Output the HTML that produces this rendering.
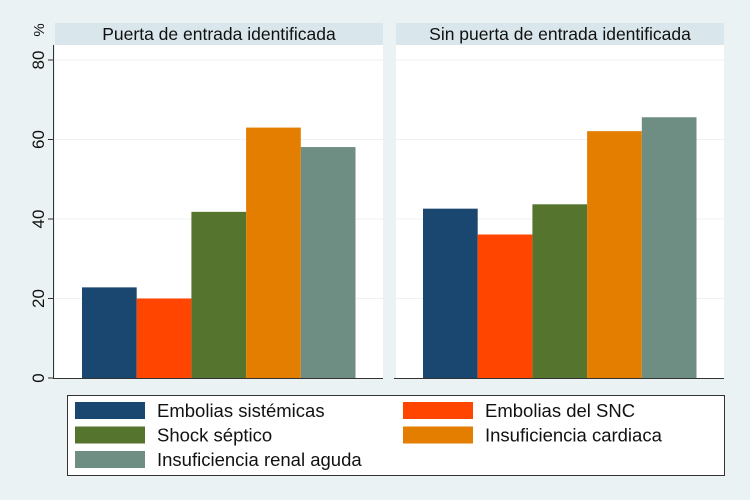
<!DOCTYPE html>
<html><head><meta charset="utf-8"><style>
body{margin:0;background:#eaf2f3;}
svg{display:block;font-family:"Liberation Sans",sans-serif;}
</style></head><body>
<svg id="chart" width="750" height="500">
<rect width="750" height="500" fill="#eaf2f3"/>
<g id="plots"></g>
<g id="legend"></g>
</svg>
<script>
const panels = ["Puerta de entrada identificada", "Sin puerta de entrada identificada"];
const seriesNames = ["Embolias sistémicas", "Embolias del SNC", "Shock séptico", "Insuficiencia cardiaca", "Insuficiencia renal aguda"];
const valuesPanel1 = [22.8, 20.0, 41.8, 63.0, 58.1];
const valuesPanel2 = [42.6, 36.1, 43.7, 62.1, 65.6];
const yTicks = [0, 20, 40, 60, 80];
const colors = ["#1a476f", "#ff4500", "#55752f", "#e37e00", "#6e8e84"];

const NS = "http://www.w3.org/2000/svg";
function mk(tag, attrs, parent, text){
  const e = document.createElementNS(NS, tag);
  for (const k in attrs) e.setAttribute(k, attrs[k]);
  if (text !== undefined) e.textContent = text;
  parent.appendChild(e);
  return e;
}
const y0 = 378, pxPerUnit = 3.975;
function yScale(v){ return y0 - v * pxPerUnit; }
const panelX = [55, 396], panelW = 328, barW = 54.7, barOff = 27;
function xScale(p, i){ return panelX[p] + barOff + i * barW; }

const plots = document.getElementById('plots');
const allVals = [valuesPanel1, valuesPanel2];
panels.forEach((title, p) => {
  const g = mk('g', {}, plots);
  
  
  const area = mk('rect', {x: panelX[p], y: 45, width: panelW, height: y0 - 45, fill: '#ffffff'}, g);
  
  
  const hdr = mk('rect', {x: panelX[p], y: 23, width: panelW, height: 22, fill: '#d9e6ec'}, g);
  
  
  const ht = mk('text', {x: panelX[p] + panelW / 2, y: 40, 'text-anchor': 'middle', 'font-size': 17.5, fill: '#111'}, g, title);
  
  
  yTicks.forEach(t => {
    if (t > 0) {
      const gl = mk('line', {x1: panelX[p], x2: panelX[p] + panelW, y1: yScale(t), y2: yScale(t), stroke: '#eef2f3', 'stroke-width': 1}, g);
      
      
    }
  });
  allVals[p].forEach((v, i) => {
    const b = mk('rect', {x: xScale(p, i), y: yScale(v), width: barW, height: y0 - yScale(v), fill: colors[i]}, g);
    
    
  });
  const ax = mk('line', {x1: panelX[p] - 2, x2: panelX[p] + panelW, y1: y0 + 0.5, y2: y0 + 0.5, stroke: '#333', 'stroke-width': 1}, g);
  
  
});
const ya = mk('g', {}, plots);


const yl = mk('line', {x1: 53.5, x2: 53.5, y1: 45, y2: y0 + 1, stroke: '#333'}, ya);


yTicks.forEach(t => {
  const tk = mk('line', {x1: 48, x2: 53.5, y1: yScale(t), y2: yScale(t), stroke: '#333'}, ya);
  
  
  const tl = mk('text', {x: 0, y: 0, transform: `translate(44,${yScale(t)}) rotate(-90)`, 'text-anchor': 'middle', 'font-size': 17, fill: '#111'}, ya, String(t));
  
  
});
const yt = mk('text', {transform: 'translate(44,30) rotate(-90)', 'text-anchor': 'middle', 'font-size': 15, fill: '#111'}, ya, '%');



const lg = document.getElementById('legend');


const lb = mk('rect', {x: 67.5, y: 395.5, width: 657, height: 80, fill: '#ffffff', stroke: '#333', 'stroke-width': 1}, lg);


seriesNames.forEach((n, i) => {
  const col = i % 2, row = Math.floor(i / 2);
  const sx = col ? 403 : 75, ty = 402 + row * 24.5;
  const sw = mk('rect', {x: sx, y: ty, width: 70, height: 17, fill: colors[i]}, lg);
  
  
  const tx = mk('text', {x: sx + 82, y: ty + 15, 'font-size': 18.5, fill: '#111'}, lg, n);
  
  
});
</script>
</body></html>
